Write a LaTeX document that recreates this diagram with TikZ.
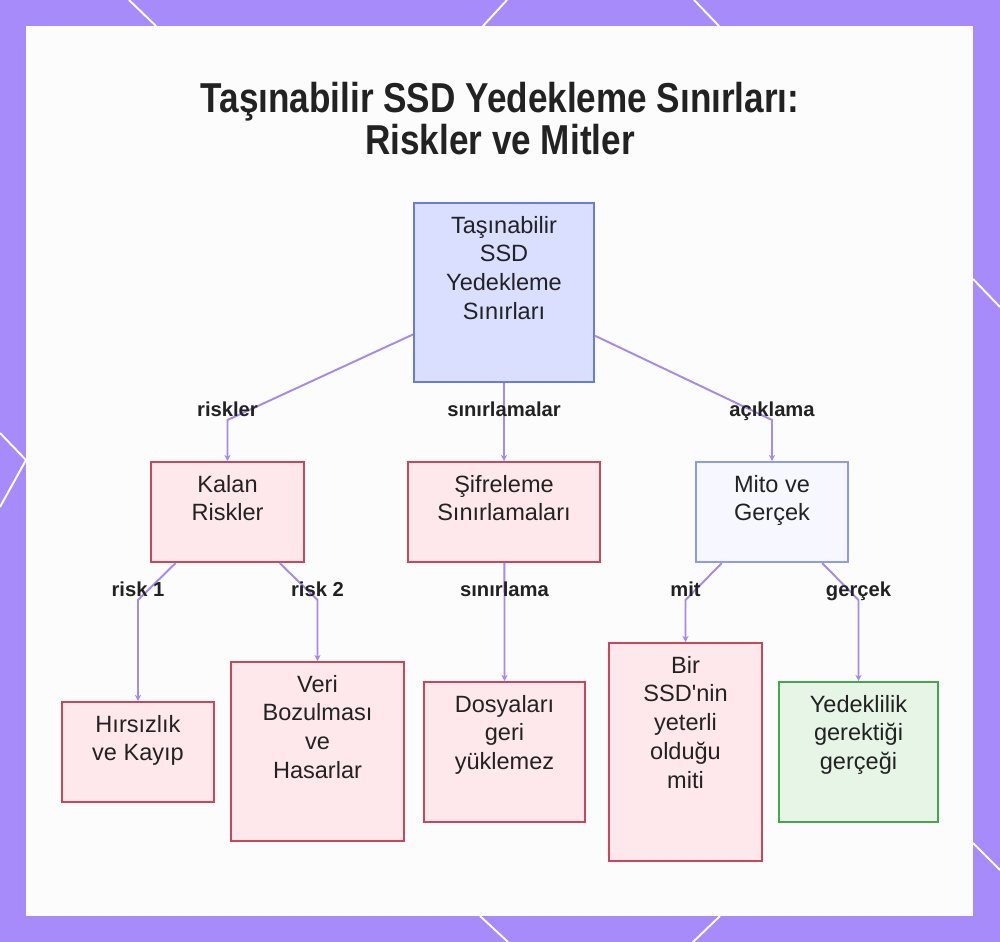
\documentclass[tikz,border=0pt]{standalone}
\usepackage{fontspec}
\setmainfont{Liberation Sans}
\newfontfamily\titlefont{Liberation Sans}[FakeStretch=0.84]
\usepackage{xcolor}
\usetikzlibrary{arrows.meta}

\definecolor{frame}{HTML}{A78BFA}
\definecolor{panel}{HTML}{FCFCFC}
\definecolor{ink}{HTML}{222222}
\definecolor{linkcol}{HTML}{A68AF0}
\definecolor{rootfill}{HTML}{DADEFF}
\definecolor{rootdraw}{HTML}{6A7BDB}
\definecolor{riskfill}{HTML}{FFE8EC}
\definecolor{riskdraw}{HTML}{C9475A}
\definecolor{mythfill}{HTML}{F6F7FF}
\definecolor{mythdraw}{HTML}{8A9CEB}
\definecolor{factfill}{HTML}{E6F5E6}
\definecolor{factdraw}{HTML}{46A64E}

\begin{document}
\begin{tikzpicture}[x=0.02cm, y=-0.02cm]
		\def\px{0.02cm}
		\tikzset{
			box/.style 2 args = {draw, line width=1.2pt, anchor=north, inner sep=0pt,
				minimum width=#1*\px, minimum height=#2*\px},
			boxtxt/.style = {anchor=north, align=center, inner sep=0pt, yshift=-7.8pt,
				text=ink, font=\fontsize{13.4}{16.4}\selectfont},
			txt/.style = {label={[boxtxt]north:{#1}}},
			rootbox/.style = {fill=rootfill, draw=rootdraw},
			riskbox/.style = {fill=riskfill, draw=riskdraw},
			mythbox/.style = {fill=mythfill, draw=mythdraw},
			factbox/.style = {fill=factfill, draw=factdraw},
			link/.style = {draw=linkcol, line width=1.1pt, -{Stealth[length=3.5pt, width=3.5pt]}},
			lbl/.style = {anchor=base, yshift=0.08cm, inner sep=0pt, text=ink,
				font=\bfseries\fontsize{11.5}{13}\selectfont},
			title/.style = {anchor=north, align=center, inner sep=0pt, text=ink,
				font=\titlefont\bfseries\fontsize{23.8}{23.8}\selectfont},
			deco/.style = {draw=white, line width=1.1pt}
		}

		% frame and panel
		\fill[frame] (0,0) rectangle (1000,942);
		\fill[panel] (26,26) rectangle (973,916);
		\useasboundingbox (0,0) rectangle (1000,942);
		\draw[deco] (129,0) -- (156,26);
		\draw[deco] (507,0) -- (483,26);
		\draw[deco] (694,0) -- (719,26);
		\draw[deco] (480,916) -- (508,942);
		\draw[deco] (720,916) -- (693,942);
		\draw[deco] (0,433) -- (26,460) -- (0,507);
		\draw[deco] (973,279) -- (1000,307);
		\draw[deco] (973,843) -- (1000,870);

		\node[title] (title) at (500,82) {Taşınabilir SSD Yedekleme Sınırları:\\Riskler ve Mitler};

		% boxes
		\node[box={180}{179}, rootbox, txt={Taşınabilir\\SSD\\Yedekleme\\Sınırları}] (root) at (504,202) {};

		\node[box={153}{100}, riskbox, txt={Kalan\\Riskler}] (kalan) at (227.5,461) {};
		\node[box={192}{100}, riskbox, txt={Şifreleme\\Sınırlamaları}] (sifre) at (504,461) {};
		\node[box={152}{100}, mythbox, txt={Mito ve\\Gerçek}] (mito) at (772,461) {};

		\node[box={152}{100}, riskbox, txt={Hırsızlık\\ve Kayıp}] (hirsiz) at (138,701) {};
		\node[box={173}{179}, riskbox, txt={Veri\\Bozulması\\ve\\Hasarlar}] (veri) at (317.5,661) {};
		\node[box={161}{140}, riskbox, txt={Dosyaları\\geri\\yüklemez}] (dosya) at (504.5,681) {};
		\node[box={153}{218}, riskbox, txt={Bir\\SSD\textquotesingle nin\\yeterli\\olduğu\\miti}] (mit) at (685.5,642) {};
		\node[box={159}{140}, factbox, txt={Yedeklilik\\gerektiği\\gerçeği}] (gercek) at (858.5,681) {};

		% connectors
		\coordinate (row1) at (0,420);
		\coordinate (row2) at (0,600);

		\draw[link] (root) -- (kalan.north |- row1) node[lbl] {riskler} -- (kalan.north);
		\draw[link] (root) -- (sifre.north |- row1) node[lbl] {sınırlamalar} -- (sifre.north);
		\draw[link] (root) -- (mito.north |- row1) node[lbl] {açıklama} -- (mito.north);

		\draw[link] (kalan) -- (hirsiz.north |- row2) node[lbl] {risk 1} -- (hirsiz.north);
		\draw[link] (kalan) -- (veri.north |- row2) node[lbl] {risk 2} -- (veri.north);
		\draw[link] (sifre) -- (dosya.north |- row2) node[lbl] {sınırlama} -- (dosya.north);
		\draw[link] (mito) -- (mit.north |- row2) node[lbl] {mit} -- (mit.north);
		\draw[link] (mito) -- (gercek.north |- row2) node[lbl] {gerçek} -- (gercek.north);
	\end{tikzpicture}
\end{document}
